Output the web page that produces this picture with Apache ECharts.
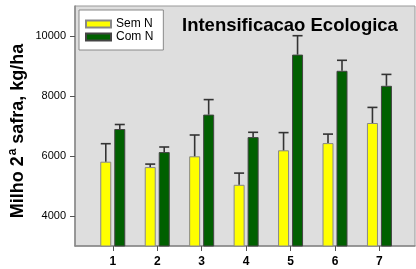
<!DOCTYPE html>
<html>
<head>
<meta charset="utf-8">
<script src="https://cdn.jsdelivr.net/npm/echarts@6/dist/echarts.min.js"></script>
<style>html,body{margin:0;padding:0;background:#fff;}#c{width:416px;height:269px;}</style>
</head>
<body>
<div id="c"></div>
<script>
const categories = [1, 2, 3, 4, 5, 6, 7];
const semN = [5810, 5630, 5990, 5040, 6190, 6430, 7100];
const semNErr = [600, 100, 710, 390, 590, 300, 520];
const comN = [6900, 6130, 7380, 6630, 9380, 8840, 8340];
const comNErr = [150, 170, 500, 160, 630, 350, 380];
const yTicks = [4000, 6000, 8000, 10000];

const FONT = '"Liberation Sans", Arial, Helvetica, sans-serif';
const BAR_W = 11;
const GAP = 3;
const OFF = (BAR_W + GAP) / 2;

const chart = echarts.init(document.getElementById('c'), null, {renderer: 'canvas'});

function errItem(dx) {
  return function (params, api) {
    const x = api.value(0), y = api.value(1), e = api.value(2);
    const p0 = api.coord([x, y]);
    const p1 = api.coord([x, y + e]);
    const cx = p0[0] + dx;
    const st = {stroke: '#333', lineWidth: 1.6};
    return {
      type: 'group',
      children: [
        {type: 'line', shape: {x1: cx, y1: p0[1], x2: cx, y2: p1[1]}, style: st},
        {type: 'line', shape: {x1: cx - 5, y1: p1[1], x2: cx + 5, y2: p1[1]}, style: st}
      ]
    };
  };
}

chart.setOption({
  animation: false,
  backgroundColor: '#fff',
  textStyle: {fontFamily: FONT},
  title: {
    text: 'Intensificacao Ecologica',
    left: 177, top: 11,
    textStyle: {fontSize: 18.5, fontWeight: 'bold', color: '#000', fontFamily: FONT}
  },
  legend: {
    left: 79, top: 10,
    orient: 'vertical',
    backgroundColor: '#fff',
    borderColor: '#888', borderWidth: 1,
    padding: [8, 10, 7, 6],
    itemWidth: 25, itemHeight: 7, itemGap: 1,
    icon: 'rect',
    textStyle: {fontSize: 12, color: '#000', fontFamily: FONT, padding: [0, 0, 0, 0]},
    data: ['Sem N', 'Com N']
  },
  graphic: [{
    type: 'text',
    x: 17, y: 131,
    rotation: Math.PI / 2,
    style: {
      text: '{b|Milho 2}{s|a}{b| safra, kg/ha}',
      align: 'center', verticalAlign: 'middle',
      rich: {
        b: {fontSize: 18, fontWeight: 'bold', fontFamily: FONT, fill: '#000', verticalAlign: 'bottom'},
        s: {fontSize: 12, fontWeight: 'bold', fontFamily: FONT, fill: '#000', verticalAlign: 'top', padding: [0, 0, 8, 1]}
      }
    }
  }],
  grid: {
    left: 75, right: 1, top: 6, bottom: 23,
    show: true, backgroundColor: '#dedede', borderColor: '#999', borderWidth: 1
  },
  xAxis: {
    type: 'value', min: 0.15, max: 7.8,
    splitLine: {show: false},
    axisLine: {show: true, lineStyle: {color: '#888', width: 1.5}},
    axisTick: {show: true, customValues: categories, length: 5, lineStyle: {color: '#555'}},
    axisLabel: {customValues: categories, formatter: v => String(v), fontSize: 12, fontWeight: 'bold', color: '#000', margin: 10, fontFamily: FONT}
  },
  yAxis: {
    type: 'value', min: 3000, max: 11000,
    splitLine: {show: false},
    axisLine: {show: true, lineStyle: {color: '#888', width: 1.5}},
    axisTick: {show: true, customValues: yTicks, length: 5, lineStyle: {color: '#555'}},
    axisLabel: {customValues: yTicks, formatter: v => String(v), fontSize: 11, color: '#000', margin: 9, fontFamily: FONT}
  },
  series: [
    {
      name: 'Sem N', type: 'bar', barWidth: BAR_W, barGap: (GAP / BAR_W * 100) + '%',
      itemStyle: {color: '#ffff00', borderColor: '#888', borderWidth: 1},
      data: semN.map((v, i) => [categories[i], v])
    },
    {
      name: 'Com N', type: 'bar', barWidth: BAR_W,
      itemStyle: {color: '#006000', borderColor: '#444', borderWidth: 1},
      data: comN.map((v, i) => [categories[i], v])
    },
    {
      type: 'custom', z: 5, silent: true,
      renderItem: errItem(-OFF),
      data: semN.map((v, i) => [categories[i], v, semNErr[i]])
    },
    {
      type: 'custom', z: 5, silent: true,
      renderItem: errItem(OFF),
      data: comN.map((v, i) => [categories[i], v, comNErr[i]])
    }
  ]
});
</script>
</body>
</html>
